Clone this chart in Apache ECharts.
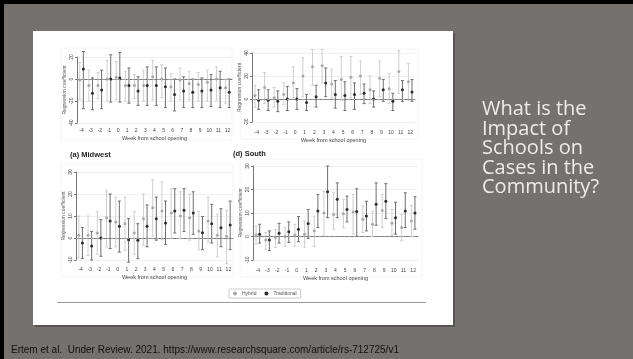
<!DOCTYPE html>
<html>
<head>
<meta charset="utf-8">
<script src="https://cdn.jsdelivr.net/npm/echarts@6/dist/echarts.min.js"></script>
<style>
  html, body { margin: 0; padding: 0; background: #75716f; }
  #chart { width: 633px; height: 359px; }
</style>
</head>
<body>
<div id="chart"></div>
<script>
// week categories
const weeks = ['-4', '-3', '-2', '-1', '0', '1', '2', '3', '4', '5', '6', '7', '8', '9', '10', '11', '12']

// top-left panel
const tlHybMean = [-1, -6, -6, 0, 1.5, -6, -6, -6, 2, 0, -7, -1, -4, -5, -3, 0, -8]
const tlHybLo = [-19, -20, -18, -20, -19, -20, -18, -20, -19, -17, -20, -19, -19, -20, -20, -19, -22]
const tlHybHi = [15, 8, 6, 17, 16, 7, 4, 8, 17, 13, 5, 10, 7, 6, 8, 11, 0]
const tlTrdMean = [9, -13, -10, 0, 1, -6, -11, -6, -6, -7, -14, -11, -12, -11, -10, -8, -12]
const tlTrdLo = [-27, -28, -27, -21, -21, -22, -24, -24, -24, -26, -29, -26, -26, -26, -25, -26, -26]
const tlTrdHi = [25, 1, 8, 22, 24, 10, 2, 11, 11, 10, 0, 2, 0, 1, 4, 7, 0]

// top-right panel
const trHybMean = [3, 10, 1, 4, 14, 20, 28, 29, 13, 17, 19, 20, 8, 18, 9, 24, 15]
const trHybLo = [-7, -4, -7, -5, 1, 2, 12, 14, 1, -1, 1, 4, -4, 2, -4, 5, -1]
const trHybHi = [12, 23, 10, 14, 28, 36, 43, 43, 26, 37, 37, 33, 20, 33, 22, 42, 31]
const trTrdMean = [-1, -1, -2, 0, 0, -3, 2, 14, 4, 3, 4, 5, 0, 8, -2, 8, 6]
const trTrdLo = [-9, -10, -11, -10, -9, -10, -7, 2, -8, -10, -9, -4, -7, -2, -10, -2, -2]
const trTrdHi = [8, 8, 7, 11, 9, 4, 12, 27, 16, 15, 14, 13, 7, 17, 5, 16, 17]

// (a) Midwest
const mwHybMean = [1.2, 1.2, 2.3, 9.2, 7.3, 6.5, 2.3, 8.8, 13.8, 12.3, 11.4, 10, 9.2, 3.2, 7.7, 1.2, 0.8]
const mwHybLo = [-9, -8, -7.4, -4, -4, -5.6, -7.4, -3.3, 0.8, -0.8, -0.3, -0.3, -1, -5.3, -1.8, -8.6, -11.7]
const mwHybHi = [10, 10, 12, 21.7, 18.6, 18.6, 12, 20, 26.5, 25.5, 22.4, 21, 20, 12, 18.6, 10.8, 12.6]
const mwTrdMean = [-2.3, -3.6, 0, 7.7, 5.3, -0.8, -1, 5.3, 8.8, 6.8, 12.3, 12.6, 11.4, 2.4, 6.5, 4.7, 5.9]
const mwTrdLo = [-9.4, -10, -8.3, -4.8, -6.4, -11, -9.4, -4, -1, -2.9, 2.3, 3, 1.7, -5.3, -2.3, -4, -5.3]
const mwTrdHi = [4.7, 3, 8.3, 20, 16.8, 8.8, 6.5, 15, 18.6, 16.8, 22.4, 22.4, 21, 9.8, 15.3, 13.3, 16.8]

// (d) South
const soHybMean = [0.6, -1.5, -0.4, 0, 0.6, 1, 2.4, 10, 9.4, 9.7, 10.4, 7.3, 5.2, 11.1, 5.6, 3.8, 6.6]
const soHybLo = [-3.2, -5.4, -4.6, -4.2, -4, -4.6, -4.2, 0.6, 3.1, 3.8, 1, 1.7, 0, 3.8, 0.6, -1.8, 0]
const soHybHi = [4.5, 1.7, 3, 3.8, 5.2, 6.6, 8.7, 19.3, 18.6, 15.8, 17.9, 13, 10.8, 17.9, 11.5, 9.4, 13.2]
const soTrdMean = [1, -1.5, 1.4, 2, 3.1, 5.5, 10.8, 19, 15.8, 11.5, 10.6, 8.7, 13.7, 15, 8, 10.8, 10]
const soTrdLo = [-2.8, -6, -2.8, -2.5, -2.2, -0.8, 3.8, 8, 8, 6.2, 0, 2.4, 4.8, 7.6, 1, 3.8, 3.1]
const soTrdHi = [5.2, 2.4, 5.6, 6.2, 8.5, 11.5, 17.9, 30, 22.8, 17.2, 20.3, 15, 22.8, 22.5, 14.6, 18.6, 16.9]

const chart = echarts.init(document.getElementById('chart'))

const font = 'Liberation Sans'

// 面板布局
const panels = [
  { grid: { left: 77, top: 57, width: 155, height: 66 }, min: -40, max: 20, interval: 20, offset: 2,
    hyb: [tlHybMean, tlHybLo, tlHybHi], trd: [tlTrdMean, tlTrdLo, tlTrdHi] },
  { grid: { left: 252, top: 53, width: 163, height: 69 }, min: -20, max: 40, interval: 20, offset: 5,
    hyb: [trHybMean, trHybLo, trHybHi], trd: [trTrdMean, trTrdLo, trTrdHi] },
  { grid: { left: 76, top: 172, width: 157, height: 88 }, min: -10, max: 30, interval: 10, offset: 4,
    hyb: [mwHybMean, mwHybLo, mwHybHi], trd: [mwTrdMean, mwTrdLo, mwTrdHi] },
  { grid: { left: 253, top: 166, width: 165, height: 94 }, min: -10, max: 30, interval: 10, offset: 5,
    hyb: [soHybMean, soHybLo, soHybHi], trd: [soTrdMean, soTrdLo, soTrdHi] }
]

// 误差线
const renderBar = (dx, lineColor, dotColor) => (params, api) => {
  const x = api.value(0)
  const mid = api.coord([x, api.value(1)])
  const lo = api.coord([x, api.value(2)])
  const hi = api.coord([x, api.value(3)])
  const cx = mid[0] + dx
  return {
    type: 'group',
    children: [
      { type: 'line', shape: { x1: cx, y1: lo[1], x2: cx, y2: hi[1] }, style: { stroke: lineColor, lineWidth: 1 } },
      { type: 'line', shape: { x1: cx - 1.5, y1: lo[1], x2: cx + 1.5, y2: lo[1] }, style: { stroke: lineColor, lineWidth: 1 } },
      { type: 'line', shape: { x1: cx - 1.5, y1: hi[1], x2: cx + 1.5, y2: hi[1] }, style: { stroke: lineColor, lineWidth: 1 } },
      { type: 'circle', shape: { cx: cx, cy: mid[1], r: 1.5 }, style: { fill: dotColor } }
    ]
  }
}

const toData = (arr) => weeks.map((w, i) => [i, arr[0][i], arr[1][i], arr[2][i]])

const grids = []
const xAxes = []
const yAxes = []
const series = []

panels.forEach((p, i) => {
  grids.push(p.grid)
  xAxes.push({
    type: 'category',
    gridIndex: i,
    data: weeks,
    offset: p.offset,
    name: 'Week from school opening',
    nameLocation: 'middle',
    nameGap: 10,
    nameTextStyle: { fontSize: 5.5, color: '#444', fontFamily: font },
    axisLine: { lineStyle: { color: '#777', width: 1 } },
    axisTick: { alignWithLabel: true, length: 2, lineStyle: { color: '#777' } },
    axisLabel: { fontSize: 5, color: '#444', margin: 3, fontFamily: font, interval: 0 },
    splitLine: { show: false }
  })
  yAxes.push({
    type: 'value',
    gridIndex: i,
    min: p.min,
    max: p.max,
    interval: p.interval,
    name: 'Regression coefficient',
    nameLocation: 'middle',
    nameRotate: 90,
    nameGap: 10,
    nameTextStyle: { fontSize: 5, color: '#555', fontFamily: font },
    axisLine: { show: true, lineStyle: { color: '#777', width: 1 } },
    axisTick: { show: true, length: 2, lineStyle: { color: '#777' } },
    axisLabel: { fontSize: 5, color: '#444', margin: 3, rotate: 90, fontFamily: font },
    splitLine: { lineStyle: { color: '#f0f0f0', width: 1 } }
  })
  series.push({
    name: 'Hybrid',
    type: 'custom',
    xAxisIndex: i,
    yAxisIndex: i,
    itemStyle: { color: '#a8a8a8' },
    renderItem: renderBar(-1.8, '#cfcfcf', '#a8a8a8'),
    data: toData(p.hyb),
    z: 3,
    markLine: {
      silent: true,
      symbol: 'none',
      label: { show: false },
      lineStyle: { color: '#999', type: [3, 2], width: 1 },
      data: [{ yAxis: 0 }]
    }
  })
  series.push({
    name: 'Traditional',
    type: 'custom',
    xAxisIndex: i,
    yAxisIndex: i,
    itemStyle: { color: '#2b2b2b' },
    renderItem: renderBar(1.8, '#6e6e6e', '#2b2b2b'),
    data: toData(p.trd),
    z: 4
  })
})

chart.setOption({
  animation: false,
  grid: grids,
  xAxis: xAxes,
  yAxis: yAxes,
  series: series,
  legend: {
    data: ['Hybrid', 'Traditional'],
    left: 229,
    top: 289,
    padding: [2, 4],
    borderColor: '#cccccc',
    borderWidth: 1,
    icon: 'circle',
    itemWidth: 4,
    itemHeight: 4,
    itemGap: 8,
    textStyle: { fontSize: 5, color: '#555', fontFamily: font }
  },
  graphic: [
    { type: 'rect', z: -20, shape: { x: 0, y: 0, width: 633, height: 359 }, style: { fill: '#75716f' } },
    { type: 'rect', z: -19, shape: { x: 0, y: 0, width: 633, height: 4 }, style: { fill: '#000' } },
    { type: 'rect', z: -19, shape: { x: 0, y: 0, width: 4, height: 359 }, style: { fill: '#000' } },
    { type: 'rect', z: -18, shape: { x: 35, y: 33, width: 420, height: 294 }, style: { fill: 'rgba(0,0,0,0.25)' } },
    { type: 'rect', z: -17, shape: { x: 33, y: 31, width: 420, height: 294 }, style: { fill: '#ffffff' } },
    // 面板外框
    { type: 'rect', z: -16, shape: { x: 61, y: 48, width: 171, height: 92 }, style: { fill: 'none', stroke: '#f4f4f4' } },
    { type: 'rect', z: -16, shape: { x: 241, y: 49, width: 177, height: 90 }, style: { fill: 'none', stroke: '#f4f4f4' } },
    { type: 'rect', z: -16, shape: { x: 61, y: 164, width: 172, height: 113 }, style: { fill: 'none', stroke: '#f4f4f4' } },
    { type: 'rect', z: -16, shape: { x: 240, y: 159, width: 182, height: 118 }, style: { fill: 'none', stroke: '#f4f4f4' } },
    { type: 'line', z: -15, shape: { x1: 57, y1: 302.5, x2: 426, y2: 302.5 }, style: { stroke: '#9a9a9a', lineWidth: 1 } },
    { type: 'text', z: 10, x: 70, y: 155, style: { text: '(a) Midwest', fontSize: 7.5, fontWeight: 'bold', fill: '#222', fontFamily: font, verticalAlign: 'middle' } },
    { type: 'text', z: 10, x: 233, y: 154, style: { text: '(d) South', fontSize: 7.5, fontWeight: 'bold', fill: '#222', fontFamily: font, verticalAlign: 'middle' } },
    { type: 'text', z: 10, x: 482, y: 100, style: {
      text: 'What is the\nImpact of\nSchools on\nCases in the\nCommunity?',
      fontSize: 20, lineHeight: 19.5, fill: '#ececec', fontFamily: 'Open Sans' } },
    { type: 'text', z: 10, x: 11, y: 350, style: {
      text: 'Ertem et al.  Under Review. 2021. https://www.researchsquare.com/article/rs-712725/v1',
      fontSize: 10, fill: '#111', fontFamily: font, verticalAlign: 'middle' } }
  ]
})

window.addEventListener('resize', () => chart.resize())
</script>
</body>
</html>
